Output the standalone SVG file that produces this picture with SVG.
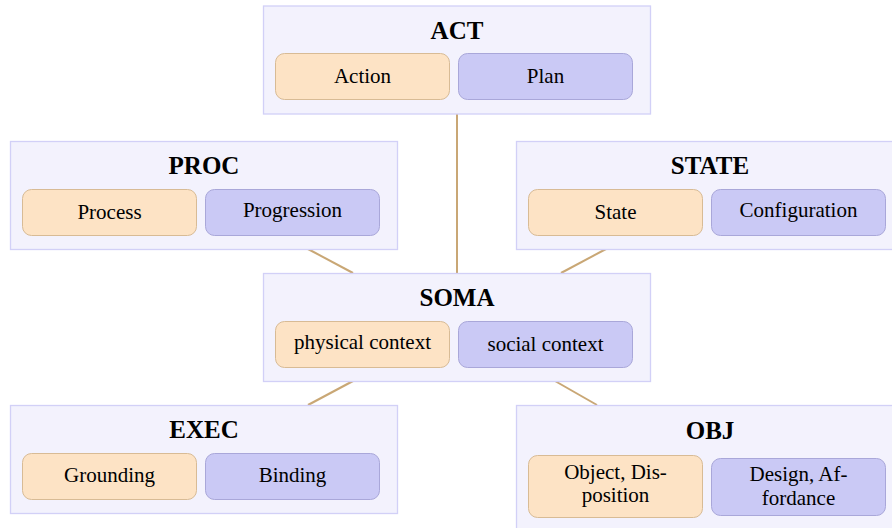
<svg xmlns="http://www.w3.org/2000/svg" width="892" height="528" viewBox="0 0 892 528">
<style>
.outer{fill:#f3f2fd;stroke:#d2d0f7;stroke-width:1.3}
.ca{fill:#fde3c5;stroke:#d8bb95;stroke-width:1}
.cb{fill:#cac9f5;stroke:#a9a7d9;stroke-width:1}
.conn{stroke:#c9a775;stroke-width:2;fill:none}
</style>
<g id="connectors">
<line class="conn" x1="457" y1="114" x2="457" y2="273"/>
<line class="conn" x1="308" y1="249" x2="353" y2="273"/>
<line class="conn" x1="606" y1="249" x2="561" y2="273"/>
<line class="conn" x1="353" y1="381" x2="308" y2="405"/>
<line class="conn" x1="555" y1="381" x2="597" y2="405"/>
</g>
<g id="ACT">
<rect class="outer" x="263.5" y="6" width="387" height="108"/>
<text font-family="Liberation Serif" font-size="25" font-weight="bold" text-anchor="middle" x="457" y="39">ACT</text>
<rect class="ca" x="275.5" y="53.5" width="174" height="46" rx="9"/>
<text font-family="Liberation Serif" font-size="21" text-anchor="middle" x="362.5" y="83">Action</text>
<rect class="cb" x="458.5" y="53.5" width="174" height="46" rx="9"/>
<text font-family="Liberation Serif" font-size="21" text-anchor="middle" x="545.5" y="83">Plan</text>
</g>
<g id="PROC">
<rect class="outer" x="10.5" y="141.5" width="387" height="108"/>
<text font-family="Liberation Serif" font-size="25" font-weight="bold" text-anchor="middle" x="204" y="174">PROC</text>
<rect class="ca" x="22.5" y="189.5" width="174" height="46" rx="9"/>
<text font-family="Liberation Serif" font-size="21" text-anchor="middle" x="109.5" y="218.5">Process</text>
<rect class="cb" x="205.5" y="189.5" width="174" height="46" rx="9"/>
<text font-family="Liberation Serif" font-size="21" text-anchor="middle" x="292.5" y="216.5">Progression</text>
</g>
<g id="STATE">
<rect class="outer" x="516.5" y="141.5" width="387" height="108"/>
<text font-family="Liberation Serif" font-size="25" font-weight="bold" text-anchor="middle" x="710" y="174">STATE</text>
<rect class="ca" x="528.5" y="189.5" width="174" height="46" rx="9"/>
<text font-family="Liberation Serif" font-size="21" text-anchor="middle" x="615.5" y="218.5">State</text>
<rect class="cb" x="711.5" y="189.5" width="174" height="46" rx="9"/>
<text font-family="Liberation Serif" font-size="21" text-anchor="middle" x="798.5" y="216.5">Configuration</text>
</g>
<g id="SOMA">
<rect class="outer" x="263.5" y="273.5" width="387" height="108"/>
<text font-family="Liberation Serif" font-size="25" font-weight="bold" text-anchor="middle" x="457" y="306">SOMA</text>
<rect class="ca" x="275.5" y="321.5" width="174" height="46" rx="9"/>
<text font-family="Liberation Serif" font-size="21" text-anchor="middle" x="362.5" y="348.5">physical context</text>
<rect class="cb" x="458.5" y="321.5" width="174" height="46" rx="9"/>
<text font-family="Liberation Serif" font-size="21" text-anchor="middle" x="545.5" y="350.5">social context</text>
</g>
<g id="EXEC">
<rect class="outer" x="10.5" y="405.5" width="387" height="108"/>
<text font-family="Liberation Serif" font-size="25" font-weight="bold" text-anchor="middle" x="204" y="438">EXEC</text>
<rect class="ca" x="22.5" y="453.5" width="174" height="46" rx="9"/>
<text font-family="Liberation Serif" font-size="21" text-anchor="middle" x="109.5" y="481.5">Grounding</text>
<rect class="cb" x="205.5" y="453.5" width="174" height="46" rx="9"/>
<text font-family="Liberation Serif" font-size="21" text-anchor="middle" x="292.5" y="481.5">Binding</text>
</g>
<g id="OBJ">
<rect class="outer" x="516.5" y="405.5" width="387" height="130"/>
<text font-family="Liberation Serif" font-size="25" font-weight="bold" text-anchor="middle" x="710" y="438.5">OBJ</text>
<rect class="ca" x="528.5" y="455.5" width="174" height="62" rx="9"/>
<text font-family="Liberation Serif" font-size="21" text-anchor="middle" x="615.5" y="478.5">Object, Dis-</text>
<text font-family="Liberation Serif" font-size="21" text-anchor="middle" x="615.5" y="502">position</text>
<rect class="cb" x="711.5" y="458.5" width="174" height="57" rx="9"/>
<text font-family="Liberation Serif" font-size="21" text-anchor="middle" x="798.5" y="481">Design, Af-</text>
<text font-family="Liberation Serif" font-size="21" text-anchor="middle" x="798.5" y="505">fordance</text>
</g>
</svg>
